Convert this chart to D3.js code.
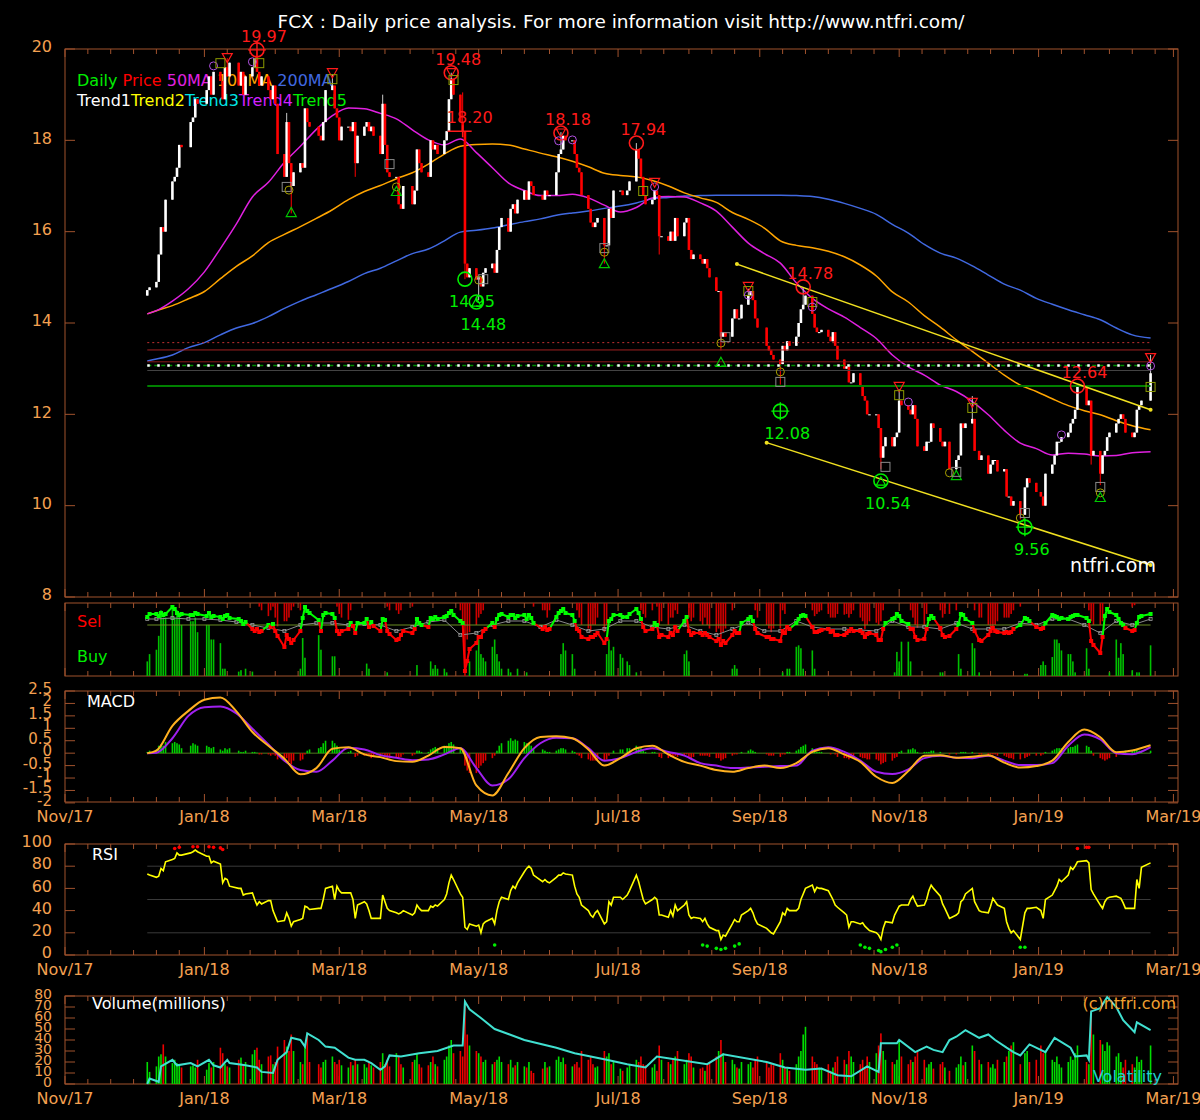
<!DOCTYPE html>
<html>
<head>
<meta charset="utf-8">
<title>FCX daily price analysis</title>
<script src="https://cdnjs.cloudflare.com/ajax/libs/d3/7.8.5/d3.min.js"></script>
<style>
	body { margin: 0; background: #000; }
	svg { display: block; }
	text { font-family: 'DejaVu Sans', sans-serif; }
</style>
</head>
<body>
<svg id="chart" width="1200" height="1120"></svg>
<script>
// one row per week, Mon..Fri, starting the week of 2017-12-04; null = no session
var weekStart = '2017-12-04';
var firstOpen = 14.6;

var closes = [
	[null,null,null,14.72,14.78],[14.9,15.5,16.1,16.0,16.7],[17.1,17.2,17.4,17.9,17.85],[null,18.4,18.5,18.9,18.8],
	[null,19.1,19.4,19.0,19.5],[19.3,18.9,19.6,19.4,19.7],[null,19.2,19.5,19.0,19.4],[19.6,19.8,19.5,19.2,19.4],
	[19.1,18.9,19.2,18.8,17.7],[17.2,18.4,17.5,17.0,17.3],[17.5,17.4,18.7,18.4,18.3],[null,18.1,18.0,18.4,19.1],
	[19.2,18.7,18.5,18.0,18.3],[18.3,18.2,18.4,17.5,18.1],[18.3,18.4,18.2,18.3,18.1],[17.7,18.8,17.9,17.3,17.2],
	[17.2,16.6,16.5,17.0,null],[16.6,16.9,17.8,17.5,17.3],[17.2,18.0,17.8,17.9,17.7],[18.0,18.2,18.9,19.35,19.0],
	[18.4,18.2,15.3,15.0,15.2],[14.95,15.0,14.8,15.1,15.2],[15.3,15.1,15.6,16.1,16.3],[16.0,16.5,16.6,16.4,16.7],
	[16.9,16.7,17.1,17.0,16.8],[null,16.7,16.9,16.8,16.8],[17.3,17.7,17.8,18.1,18.0],[18.0,17.7,17.4,17.3,16.8],
	[16.5,16.2,16.1,16.2,16.3],[15.7,15.7,16.5,16.3,16.9],[16.9,16.8,null,16.9,17.1],[17.8,17.6,17.2,16.8,16.6],
	[16.7,16.9,16.8,15.9,15.9],[15.8,16.0,15.8,16.3,15.9],[16.2,16.3,15.6,15.4,15.5],[15.4,15.3,15.4,15.2,15.0],
	[14.7,14.7,13.7,13.8,13.7],[14.1,14.3,14.1,14.1,14.4],[14.6,14.7,14.5,14.1,13.9],[null,13.5,13.4,13.3,13.2],
	[13.1,13.5,13.4,13.6,13.5],[13.7,14.0,14.3,14.4,14.6],[14.2,13.9,13.8,13.8,13.85],[13.7,13.6,13.8,13.5,13.2],
	[13.0,13.05,12.7,12.7,12.9],[12.6,12.4,12.3,12.0,12.0],[12.0,11.7,11.05,11.3,11.5],[11.3,11.5,11.6,12.3,12.2],
	[12.1,12.0,12.2,11.9,11.3],[11.2,11.4,11.4,11.8,11.7],[11.4,11.3,11.4,null,10.8],[11.0,11.1,11.8,11.7,11.8],
	[11.9,11.2,null,11.0,11.1],[10.7,10.9,11.0,11.0,10.75],[10.8,10.2,10.2,10.0,10.1],[9.8,null,10.4,10.6,10.5],
	[10.3,null,10.2,10.0,10.7],[10.9,11.1,11.4,11.4,11.5],[11.6,11.8,11.9,12.1,12.6],[null,12.2,12.3,11.1,11.2],
	[10.7,11.1,11.2,11.5,11.6],[11.8,11.9,12.0,11.9,11.6],[11.5,11.6,12.1,12.2,12.3],[null,12.9,null,null,null]
];

var highs = {'2018-01-11':19.8,'2018-01-24':19.95,'2018-02-06':18.6,'2018-02-26':19.45,'2018-03-20':19.0,
	'2018-04-19':19.48,'2018-04-24':19.05,'2018-06-06':18.18,'2018-07-09':17.94,'2018-08-27':14.75,
	'2018-09-20':14.78,'2018-11-01':12.55,'2018-12-03':12.4,'2019-01-18':12.64,'2019-01-24':12.3,'2019-02-19':13.3};
var lows = {'2018-02-08':16.4,'2018-03-08':17.2,'2018-04-25':14.96,'2018-05-01':14.5,'2018-06-25':15.3,
	'2018-07-19':15.5,'2018-08-15':13.4,'2018-09-10':12.65,'2018-10-24':10.8,'2018-11-26':10.75,
	'2018-12-24':9.7,'2019-01-24':10.9,'2019-01-28':10.45};

// millions of shares
var volumes = [
	[null,null,null,20,11],[16,25,27,36,25],[19,22,19,17,15],[null,16,17,15,22],[null,13,19,15,20],[33,28,18,16,15],
	[null,22,24,18,20],[27,31,33,22,18],[25,26,18,20,34],[40,34,30,45,30],[20,18,34,46,20],[null,18,15,20,22],
	[25,20,18,22,17],[15,20,17,22,18],[18,15,20,17,15],[20,28,18,22,16],[28,25,18,15,null],[20,22,28,18,15],
	[17,20,25,18,16],[22,25,35,40,28],[30,25,76,45,35],[30,28,25,20,22],[18,20,22,25,20],[18,22,15,17,20],
	[16,15,20,12,10],[null,14,20,15,16],[22,25,20,24,18],[16,18,20,15,30],[22,25,18,15,16],[30,25,28,18,20],
	[14,12,null,15,18],[22,20,25,18,17],[15,18,12,35,22],[20,18,22,25,30],[18,22,28,25,15],[14,15,12,18,20],
	[25,30,40,28,20],[22,18,15,14,20],[18,20,15,22,25],[null,20,15,18,17],[28,22,15,14,12],[18,25,30,45,52],
	[25,20,18,15,14],[18,12,15,20,25],[22,18,30,25,20],[18,22,15,25,20],[28,35,46,30,22],[20,18,22,40,25],
	[18,22,20,25,30],[22,15,18,20,14],[18,20,15,null,12],[15,18,25,17,20],[35,30,null,22,18],[20,15,18,14,22],
	[20,25,30,35,38],[18,null,28,30,20],[22,null,35,28,30],[22,20,25,18,15],[20,25,22,28,35],[null,20,18,67,45],
	[40,36,30,38,35],[25,28,20,15,22],[18,15,25,20,22],[null,35,null,null,null]
];

var rsi = [
	[null,null,null,73,72],[70,71,78,76,84],[86,87,92,90,90],[null,92,93,94.5,93],[null,89,89,83,84.5],[82,65,69,68,62],
	[null,60,60,54,55],[56,50,45,48,46],[49,49,40,35,30],[31,38,33,26,30],[32,33,44,43,41],[null,42,42,50,60],
	[62,50,62,58,56],[56,56,50,33,45],[48,46,40,33,33],[33,54,48,42,40],[38,37,38,40,null],[36,38,45,42,40],
	[40,44,43,45,44],[50,55,65,72,68],[55,52,25,23,28],[26,27,20,28,30],[33,28,40,48,52],[50,58,62,60,65],
	[75,78,80,78,72],[null,66,68,66,65],[70,72,72,74,73],[72,62,55,52,45],[40,36,34,38,40],[28,30,48,45,52],
	[52,50,null,54,58],[72,66,58,50,46],[50,52,50,36,36],[34,40,35,45,40],[45,48,36,33,34],[33,30,33,28,25],
	[22,22,14,18,17],[28,32,30,30,36],[40,42,38,32,28],[null,24,22,20,19],[30,38,36,42,40],[40,42,50,55,60],
	[63,57,61,60,60],[58,54,50,45,43],[38,36,25,30,30],[28,29,26,24,22],[20,18,14,24,30],[29,36,40,44,45],
	[45,50,53,48,44],[45,50,58,63,60],[53,46,42,null,33],[36,38,48,50,55],[60,48,null,40,39],[38,44,51,48,45],
	[42,30,24,20,22],[14,null,38,42,42],[43,null,40,33,50],[54,58,62,68,66],[72,79,77,80,84],[null,85,83,59,55],
	[45,42,48,51,52],[53,52,51,47,42],[42,42,68,60,79],[null,83,null,null,null]
];

var macdHist = [
	[null,null,null,0.05,0.1],[0.15,0.3,0.35,0.3,0.45],[0.4,0.45,0.4,0.35,0.2],[null,0.3,0.4,0.35,0.3],[null,0.3,0.25,0.2,0.25],
	[0.15,0.1,0.2,0.15,0.2],[null,0.1,0.05,0.05,0.1],[0.05,0.05,0.02,-0.05,-0.05],[-0.05,-0.1,-0.05,-0.1,-0.25],
	[-0.3,-0.2,-0.35,-0.45,-0.3],[-0.3,-0.25,-0.05,0.1,0.15],[null,0.2,0.25,0.4,0.5],[0.5,0.4,0.3,0.15,0.05],
	[0.05,0.1,0,-0.15,-0.1],[-0.1,-0.05,-0.1,-0.2,-0.15],[-0.1,-0.05,-0.1,-0.2,-0.2],[-0.15,-0.2,-0.15,-0.05,null],
	[-0.1,-0.05,0.1,0.1,0.05],[0.05,0.15,0.2,0.25,0.2],[0.3,0.3,0.4,0.45,0.35],[0.2,0.1,-0.5,-0.7,-0.8],
	[-0.8,-0.6,-0.5,-0.4,-0.3],[-0.2,-0.1,0.1,0.3,0.4],[0.5,0.6,0.5,0.55,0.5],[0.45,0.4,0.4,0.3,0.2],
	[null,0.15,0.1,0.05,0.05],[0.1,0.15,0.2,0.2,0.15],[0.1,0.05,-0.05,-0.1,-0.2],[-0.25,-0.3,-0.3,-0.3,-0.25],
	[-0.3,-0.25,-0.1,0,0.1],[0.15,0.15,null,0.2,0.2],[0.3,0.25,0.2,0.1,0.05],[0.05,0.05,0,-0.15,-0.2],
	[-0.2,-0.15,-0.15,-0.1,-0.15],[-0.1,-0.05,-0.15,-0.2,-0.15],[-0.1,-0.1,-0.1,-0.1,-0.15],[-0.2,-0.2,-0.3,-0.25,-0.2],
	[-0.1,-0.05,-0.05,0,0.05],[0.1,0.15,0.1,0.05,0],[null,-0.05,-0.1,-0.1,-0.1],[-0.15,-0.05,-0.05,0.05,0.05],
	[0.1,0.15,0.25,0.3,0.35],[0.2,0.1,0.05,0.05,0.05],[0,-0.05,0,-0.05,-0.15],[-0.2,-0.2,-0.25,-0.2,-0.15],
	[-0.15,-0.2,-0.2,-0.25,-0.25],[-0.25,-0.3,-0.45,-0.4,-0.35],[-0.3,-0.2,-0.15,0.05,0.1],[0.15,0.15,0.2,0.15,0.05],
	[0.05,0.05,0.05,0.1,0.1],[0.05,0,0,null,-0.05],[-0.05,0,0.05,0.05,0.05],[0.05,-0.02,null,-0.05,-0.05],
	[-0.1,-0.05,-0.05,-0.05,-0.1],[-0.1,-0.15,-0.2,-0.2,-0.25],[-0.25,null,-0.2,-0.15,-0.1],[-0.1,null,-0.1,-0.05,0.05],
	[0.1,0.15,0.2,0.2,0.2],[0.2,0.25,0.25,0.3,0.35],[null,0.3,0.25,0.1,-0.1],[-0.2,-0.25,-0.3,-0.25,-0.2],
	[-0.15,-0.05,0,0.05,0.1],[0.1,0.15,0.15,0.1,0.1],[null,0.1,null,null,null]
];

// sell/buy pressure: line above 0 = buy side, below = sell side
var sentiment = [
	[null,null,null,0.4,0.55],[0.55,0.45,0.6,0.5,0.55],[0.9,0.8,0.6,0.5,0.55],[null,0.5,0.5,0.6,0.55],[null,0.45,0.6,0.4,0.45],
	[0.4,0.3,0.45,0.5,0.35],[null,0.3,0.2,0.05,0.15],[-0.2,-0.3,-0.2,-0.35,-0.3],[0,-0.1,0.05,-0.3,-0.55],
	[-1.1,-0.5,-0.7,-0.9,-0.75],[-0.3,0.35,0.9,0.7,0.6],[null,0.25,-0.3,0.5,0.6],[0.55,0.35,-0.3,-0.45,-0.3],
	[-0.2,0.1,-0.05,-0.4,0.1],[0.1,0.3,-0.1,0.15,-0.05],[-0.3,0.3,0.25,-0.3,-0.45],[-0.75,-0.7,-0.5,-0.3,null],
	[-0.4,-0.2,0.3,0.1,0],[-0.1,0.35,0.3,0.4,0.3],[0.4,0.45,0.6,0.7,0.5],[0.2,0.1,-2.3,-1.8,-1.2],
	[-0.9,-0.6,-0.6,-0.3,-0.2],[0.1,-0.1,0.3,0.5,0.55],[0.4,0.5,0.5,0.35,0.45],[0.5,0.3,0.5,0.35,0.1],
	[null,-0.2,-0.1,-0.25,-0.2],[0.4,0.6,0.7,0.8,0.6],[0.5,0.2,-0.2,-0.3,-0.6],[-0.7,-0.6,-0.6,-0.5,-0.4],
	[-0.9,-0.7,0.2,0.3,0.5],[0.5,0.4,null,0.4,0.55],[0.8,0.6,0.3,-0.1,-0.3],[-0.2,0.1,0,-0.6,-0.5],
	[-0.6,-0.4,-0.5,-0.1,-0.3],[0.2,0.4,-0.3,-0.5,-0.4],[-0.4,-0.5,-0.4,-0.5,-0.6],[-0.8,-0.7,-1.0,-0.8,-0.9],
	[-0.5,-0.3,-0.4,-0.4,0.1],[0.3,0.4,0.2,-0.2,-0.4],[null,-0.6,-0.6,-0.7,-0.7],[-0.8,-0.3,-0.4,-0.1,-0.2],
	[0.1,0.3,0.45,0.5,0.45],[-0.1,-0.35,-0.35,-0.3,-0.25],[-0.2,-0.35,-0.3,-0.5,-0.5],[-0.5,-0.4,-0.3,-0.2,-0.3],
	[-0.3,-0.4,-0.6,-0.45,-0.4],[-0.5,-0.75,-0.75,-0.2,0.1],[0.3,0.35,0.55,0.45,0.2],[0.05,-0.2,-0.2,-0.6,-0.75],
	[-0.7,-0.2,0.3,0.45,0.35],[-0.15,-0.5,-0.6,null,-0.55],[-0.2,0.05,0.55,0.5,0.3],[0.1,-0.3,null,-0.75,-0.8],
	[-0.5,-0.3,-0.15,-0.3,-0.35],[-0.4,-0.35,-0.4,-0.35,-0.2],[0,null,0.35,0.3,0.2],[-0.1,null,-0.2,-0.15,0.1],
	[0.5,0.45,0.4,0.3,0.35],[0.3,0.4,0.45,0.5,0.5],[null,0.35,0.2,-0.8,-1.0],[-1.4,-0.6,0.45,0.8,0.65],
	[0.5,0.3,0.1,0,-0.15],[-0.3,-0.25,0.1,0.4,0.45],[null,0.55,null,null,null]
];

// bar heights as a share of the panel
var buyBars = [
	[null,null,null,0.2,0.3],[0.36,0.55,0.9,0.8,0.8],[0.95,0.8,0.9,0.85,0.7],[null,0.75,0.75,0.8,0.6],[null,0.7,0.7,0.5,0.5],
	[0.45,0.1,0.1,0,0],[null,0.06,0.08,0,0.1],[0.06,0,0,0,0],[0,0,0,0,0],[0,0,0,0,0],[0.1,0.52,0.25,0,0],
	[null,0.56,0.36,0,0],[0.27,0.27,0,0,0],[0,0,0,0,0],[0,0.17,0.1,0,0],[0,0,0,0.05,0],[0,0,0,0,null],
	[0,0,0.15,0,0],[0,0.2,0.1,0.15,0.1],[0.1,0.05,0,0,0],[0,0,0,0,0.2],[0.35,0.5,0.3,0.25,0.2],[0.4,0.5,0.3,0.2,0.1],
	[0.1,0.05,0,0,0.1],[0,0.05,0,0,0],[null,0,0,0,0],[0,0,0.3,0.45,0.35],[0.3,0.1,0,0,0],[0,0,0,0,0],
	[0,0.3,0.5,0.35,0.4],[0.3,0.25,null,0.2,0.15],[0.05,0,0,0,0],[0,0,0,0,0],[0,0,0,0,0],[0.3,0.35,0.2,0,0],
	[0,0,0,0,0],[0,0,0,0,0],[0.1,0.15,0.1,0,0],[0,0,0,0,0],[null,0,0,0,0],[0,0.05,0,0.1,0.1],[0.4,0.42,0.38,0.1,0],
	[0.35,0.1,0,0,0],[0,0,0,0,0],[0,0,0,0,0],[0,0,0,0,0],[0,0,0,0,0],[0,0.05,0.33,0.2,0.47],[0.47,0.2,0,0,0],
	[0,0,0,0,0],[0.05,0.05,0,null,0],[0,0.3,0.1,0,0],[0.45,0.38,null,0.05,0],[0,0,0,0,0],[0,0,0,0,0],
	[0,null,0.03,0.03,0],[0,null,0.15,0.2,0.15],[0.26,0.5,0.5,0.45,0.35],[0.3,0.3,0.2,0.05,0],[null,0.38,0.1,0,0],
	[0,0,0,0,0.05],[0.5,0.25,0.45,0.3,0],[0.08,0,0.05,0.05,0],[null,0.42,null,null,null]
];
var sellBars = [
	[null,null,null,0,0],[0,0,0,0,0],[0,0,0,0,0],[null,0,0,0,0],[null,0,0,0,0],[0,0,0,0,0],[null,0,0,0,0],
	[0,0,0,0.05,0.1],[0.18,0.1,0.05,0.2,0.32],[0.25,0.25,0.2,0.1,0.05],[0.1,0,0,0,0],[null,0,0,0,0],
	[0,0,0.05,0.15,0.2],[0.23,0.1,0,0,0],[0,0,0,0,0],[0,0,0,0.05,0.1],[0.1,0.15,0.1,0,null],[0.05,0,0,0,0],
	[0,0,0,0,0],[0,0,0,0,0],[0.1,0.3,1.0,0.5,0.4],[0.3,0.2,0.15,0.1,0],[0,0,0,0,0],[0,0,0,0,0],[0,0,0,0,0.05],
	[null,0.1,0.1,0.2,0.1],[0,0,0,0,0],[0,0,0.1,0.2,0.3],[0.35,0.4,0.3,0.3,0.2],[0.4,0.3,0,0,0],[0,0,null,0,0],
	[0,0,0.1,0.15,0.2],[0.1,0,0.05,0.3,0.25],[0.3,0.2,0.2,0.1,0.15],[0,0,0.2,0.25,0.2],[0.25,0.3,0.2,0.3,0.35],
	[0.4,0.35,0.5,0.4,0.35],[0.1,0,0,0,0],[0,0,0,0.1,0.2],[null,0.3,0.35,0.4,0.35],[0.35,0.1,0.15,0,0],[0,0,0,0,0],
	[0.1,0.18,0.15,0.12,0.1],[0.15,0.2,0.2,0.2,0.15],[0.16,0.15,0.2,0.15,0.1],[0.2,0.25,0.36,0.3,0.25],
	[0.27,0.3,0.25,0.1,0],[0,0,0,0,0],[0,0.1,0.2,0.3,0.34],[0.3,0.15,0,0,0],[0.1,0.2,0.15,null,0.15],[0.1,0,0,0,0],
	[0,0.1,null,0.2,0.2],[0.3,0.41,0.35,0.3,0.25],[0.2,0.2,0.2,0.15,0.1],[0.05,null,0,0,0],[0,null,0,0,0],
	[0,0,0,0,0],[0,0,0,0,0],[null,0,0.1,0.25,0.3],[0.3,0.25,0,0,0],[0,0,0,0,0],[0.05,0.03,0,0,0],[null,0,null,null,null]
];

// weekly samples (first session, then each Monday, then last session)
var ma50 = [14.20,14.27,14.48,14.75,15.12,15.63,16.17,16.76,17.08,17.52,17.87,18.24,18.54,18.71,18.69,18.59,
	18.47,18.23,18.01,17.90,18.03,17.73,17.40,17.07,16.90,16.79,16.79,16.82,16.74,16.58,16.43,16.53,16.74,16.77,
	16.76,16.63,16.45,16.10,15.75,15.52,15.31,14.88,14.54,14.31,14.13,13.90,13.66,13.30,13.04,12.86,12.64,12.50,
	12.28,11.99,11.65,11.37,11.25,11.11,11.15,11.13,11.09,11.10,11.16,11.18];
var ma100 = [14.20,14.27,14.38,14.53,14.69,14.97,15.24,15.47,15.76,15.94,16.11,16.29,16.48,16.70,16.88,17.01,
	17.16,17.29,17.48,17.70,17.87,17.91,17.92,17.90,17.81,17.72,17.64,17.54,17.42,17.28,17.23,17.20,17.12,17.00,
	16.85,16.74,16.64,16.42,16.27,16.08,15.80,15.70,15.65,15.57,15.45,15.27,15.03,14.68,14.46,14.16,13.91,13.63,
	13.38,13.12,12.86,12.64,12.50,12.34,12.19,12.08,11.99,11.86,11.75,11.66];
var ma200 = [13.17,13.21,13.30,13.46,13.57,13.74,13.89,13.99,14.14,14.32,14.48,14.62,14.76,14.91,15.08,15.20,
	15.36,15.52,15.62,15.80,15.99,16.03,16.08,16.15,16.22,16.28,16.36,16.41,16.45,16.51,16.56,16.63,16.72,16.75,
	16.78,16.79,16.80,16.80,16.80,16.80,16.80,16.79,16.77,16.71,16.62,16.51,16.38,16.16,15.97,15.72,15.53,15.42,
	15.25,15.05,14.85,14.72,14.54,14.41,14.29,14.18,14.07,13.89,13.74,13.67];
var macdLine = [0,0.1,1.1,1.7,2.15,2.24,1.68,0.85,0.3,-0.22,-0.85,-0.6,0.18,0.24,-0.05,-0.16,-0.32,-0.35,-0.1,
	0.25,0.2,-1.3,-1.7,-0.8,0.2,0.65,0.68,0.6,0.15,-0.5,-0.2,0.2,0.3,-0.05,-0.35,-0.5,-0.68,-0.75,-0.6,-0.5,-0.6,
	-0.4,0.05,0.2,-0.05,-0.35,-0.95,-1.2,-0.72,-0.1,-0.08,-0.18,-0.14,-0.08,-0.38,-0.58,-0.52,-0.3,0.45,0.95,0.64,
	0.04,0.11,0.32];
var signalLine = [0,0.02,0.6,1.5,1.85,1.88,1.6,0.98,0.35,-0.3,-0.68,-0.75,-0.3,0.22,0.15,-0.08,-0.18,-0.28,-0.25,
	-0.05,0.2,-0.6,-1.3,-1.05,-0.2,0.4,0.62,0.6,0.2,-0.3,-0.2,0.05,0.2,0.05,-0.1,-0.4,-0.5,-0.6,-0.58,-0.55,-0.52,
	-0.5,0.1,0.24,0.05,-0.3,-0.75,-0.84,-0.65,-0.2,-0.1,-0.18,-0.2,-0.1,-0.3,-0.48,-0.48,-0.4,0.3,0.75,0.55,0,
	-0.04,0.24];
var neutralLine = [0.3,0.3,0.35,0.3,0.3,0.25,0.15,0,-0.15,-0.3,0,0.1,0.1,0,0.05,0,-0.3,-0.1,0.15,0.25,-0.5,-0.4,
	0,0.2,0.2,-0.1,0.25,0,-0.3,-0.2,0.2,0.2,-0.1,-0.2,0,-0.3,-0.5,-0.2,0.1,-0.3,-0.3,0.2,-0.1,-0.2,-0.2,-0.25,-0.3,
	0.2,-0.1,-0.1,-0.2,0.1,-0.2,-0.2,-0.2,0.1,0,0.3,0.3,0,-0.4,0.2,0,0.3];

var volatility = [
	['2017-12-07',0],['2017-12-08',5],['2017-12-12',2],['2017-12-13',16],['2017-12-18',22],['2017-12-20',17],
	['2017-12-26',19],['2017-12-29',16],['2018-01-03',22],['2018-01-05',17],['2018-01-08',15],['2018-01-11',22],
	['2018-01-12',19],['2018-01-19',17],['2018-01-24',15],['2018-01-26',11],['2018-01-31',10],['2018-02-02',22],
	['2018-02-06',29],['2018-02-08',42],['2018-02-12',40],['2018-02-14',34],['2018-02-15',46],['2018-02-20',40],
	['2018-02-23',34],['2018-02-27',33],['2018-03-05',24],['2018-03-08',22],['2018-03-12',22],['2018-03-15',19],
	['2018-03-19',13],['2018-03-21',16],['2018-03-23',26],['2018-03-28',25],['2018-04-05',28],['2018-04-13',30],
	['2018-04-20',35],['2018-04-24',35],['2018-04-25',75],['2018-04-27',68],['2018-05-02',60],['2018-05-08',50],
	['2018-05-21',40],['2018-06-04',33],['2018-06-12',28],['2018-06-26',22],['2018-07-05',18],['2018-07-13',15],
	['2018-07-18',25],['2018-08-09',18],['2018-08-16',27],['2018-09-04',20],['2018-09-12',15],['2018-09-21',13],
	['2018-09-28',14],['2018-10-05',8],['2018-10-11',7],['2018-10-18',16],['2018-10-23',11],['2018-10-24',37],
	['2018-10-31',37],['2018-11-01',40],['2018-11-08',29],['2018-11-13',34],['2018-11-16',31],['2018-11-20',29],
	['2018-11-23',40],['2018-11-26',43],['2018-11-30',49],['2018-12-06',42],['2018-12-10',45],['2018-12-13',40],
	['2018-12-18',33],['2018-12-21',29],['2018-12-24',26],['2018-12-28',36],['2019-01-04',29],['2019-01-08',42],
	['2019-01-15',33],['2019-01-17',25],['2019-01-22',26],['2019-01-23',22],['2019-01-24',66],['2019-01-28',69],
	['2019-01-31',79],['2019-02-04',70],['2019-02-07',58],['2019-02-12',47],['2019-02-13',56],['2019-02-19',49]
];

var rsiHighDots = [['2017-12-19',96],['2017-12-21',97],['2017-12-27',97.5],['2017-12-29',97.5],['2018-01-03',97.5],
	['2018-01-05',97],['2018-01-08',96.5],['2018-01-09',95],['2019-01-18',96],['2019-01-22',97],['2019-01-23',97]];
var rsiLowDots = [['2018-05-08',9],['2018-08-07',9],['2018-08-09',8],['2018-08-13',6],['2018-08-15',5],
	['2018-08-17',6],['2018-08-21',8],['2018-08-23',10],['2018-10-15',9],['2018-10-17',7],['2018-10-19',6],
	['2018-10-23',4],['2018-10-24',3],['2018-10-26',5],['2018-10-29',7],['2018-10-31',9],['2018-12-24',7],['2018-12-26',7]];

// support / resistance levels and the two channel lines
var levels = [13.57, 13.41, 13.15, 13.07, 12.96, 12.62];
var trendLines = [
	[['2018-08-22',15.29],['2019-02-19',12.10]],
	[['2018-09-04',11.38],['2019-02-19',8.70]]
];

// signal markers: date, price, kind, label
var markers = [
	['2018-01-24',19.98,'hiCross','19.97'],['2018-01-11',19.80,'dn'],['2018-02-26',19.47,'dn'],
	['2018-01-05',19.63,'pc'],['2018-01-22',19.72,'pc'],['2018-01-08',19.69,'os'],['2018-01-25',19.69,'os'],
	['2018-02-26',19.34,'os'],['2018-02-06',16.98,'gs'],['2018-03-23',17.48,'gs'],['2018-02-07',16.91,'oc'],
	['2018-03-26',16.98,'oc'],['2018-02-08',16.43,'up'],['2018-03-26',16.89,'up'],
	['2018-04-19',19.48,'hiTri','19.48'],['2018-04-20',19.32,'os'],['2018-04-24',18.20,'plus','18.20'],
	['2018-04-25',14.96,'loCircle','14.95'],['2018-05-01',14.94,'oc'],['2018-05-03',14.96,'gs'],
	['2018-04-30',14.46,'loTri','14.48'],
	['2018-06-06',18.16,'hiTri','18.18'],['2018-06-05',17.99,'pc'],['2018-06-11',18.01,'pc'],
	['2018-07-09',17.94,'hiCircle','17.94'],['2018-07-12',16.89,'os'],['2018-07-17',16.98,'pc'],['2018-07-17',17.07,'dn'],
	['2018-06-25',15.64,'gs'],['2018-06-25',15.55,'oc'],['2018-06-25',15.31,'up'],
	['2018-08-27',14.79,'dn'],['2018-08-27',14.70,'os'],['2018-08-27',14.61,'pc'],
	['2018-08-15',13.56,'oc'],['2018-08-15',13.15,'up'],['2018-08-17',13.69,'gs'],
	['2018-09-20',14.79,'hiCircle','14.78'],['2018-09-24',14.46,'os'],['2018-09-24',14.35,'pc'],
	['2018-09-10',12.93,'oc'],['2018-09-10',12.71,'gs'],['2018-09-10',12.07,'loCross','12.08'],
	['2018-10-26',10.85,'gs'],['2018-10-24',10.54,'loTri','10.54'],
	['2018-11-01',12.60,'dn'],['2018-11-01',12.42,'os'],['2018-11-05',12.27,'pc'],
	['2018-11-23',10.72,'oc'],['2018-11-26',10.67,'up'],['2018-11-26',10.74,'gs'],
	['2018-12-03',12.25,'dn'],['2018-12-03',12.14,'os'],
	['2018-12-24',9.73,'oc'],['2018-12-26',9.84,'gs'],['2018-12-26',9.53,'loCross','9.56'],
	['2019-01-11',11.55,'pc'],['2019-01-18',12.62,'hiCircle','12.64'],
	['2019-01-28',10.41,'gs'],['2019-01-28',10.28,'oc'],['2019-01-28',10.19,'up'],
	['2019-02-19',13.23,'dn'],['2019-02-19',13.06,'pc'],['2019-02-19',12.60,'os']
];

var priceTicks = [8, 10, 12, 14, 16, 18, 20];
var macdTicks = [-2, -1.5, -1, -0.5, 0, 0.5, 1, 1.5, 2, 2.5];
var rsiTicks = [0, 20, 40, 60, 80, 100];
var rsiGrid = [20, 50, 80];
var volTicks = [0, 10, 20, 30, 40, 50, 60, 70, 80];

var legend1 = [['Daily', '#00ee00'], ['Price', '#ff0000'], ['50MA', '#e020e0'], ['100MA', '#ffa500'], ['200MA', '#4169e1']];
var legend2 = [['Trend1', '#ffffff'], ['Trend2', '#ffff00'], ['Trend3', '#00e5e5'], ['Trend4', '#d020ff'], ['Trend5', '#00ee00']];

// ---------------------------------------------------------------

var parse = d3.timeParse('%Y-%m-%d'),
	key = d3.timeFormat('%Y-%m-%d'),
	start = parse(weekStart);

var days = [];
closes.forEach(function(row, k) {
	row.forEach(function(c, j) {
		if (c === null) return;
		days.push({
			date: d3.timeDay.offset(start, k * 7 + j),
			close: c,
			vol: volumes[k][j],
			rsi: rsi[k][j],
			hist: macdHist[k][j],
			sent: sentiment[k][j],
			buy: buyBars[k][j],
			sell: sellBars[k][j]
		});
	});
});
days.forEach(function(d, i) {
	d.open = i ? days[i - 1].close : firstOpen;
	d.up = d.close >= d.open;
	d.high = highs[key(d.date)] || Math.max(d.open, d.close);
	d.low = lows[key(d.date)] || Math.min(d.open, d.close);
});
var firstDay = days[0].date,
	lastDay = days[days.length - 1].date;

var weekly = function(values) {
	return values.map(function(v, i) {
		var d = i === 0 ? firstDay : (i === values.length - 1 ? lastDay : d3.timeDay.offset(start, i * 7));
		return [d, v];
	});
};
var dated = function(list) {
	return list.map(function(p) { return [parse(p[0]), p[1]].concat(p.slice(2)); });
};

var left = 65, right = 1178;
var frameColor = '#a0522d', tickText = '#f4a050';

var x = d3.scaleTime()
	.domain([new Date(2017, 10, 1), new Date(2019, 2, 3)])
	.range([left, right]);

var yPrice = d3.scaleLinear().domain([8, 20]).range([597, 49]);
var ySel = d3.scaleLinear().domain([-1, 1]).range([645, 605]);
var yBuy = d3.scaleLinear().domain([0, 1]).range([676, 603]);
var ySell = d3.scaleLinear().domain([0, 1]).range([603, 676]);
var yMacd = d3.scaleLinear().domain([-2, 2.5]).range([802.9, 691]);
var yRsi = d3.scaleLinear().domain([0, 100]).range([955, 844]);
var yVol = d3.scaleLinear().domain([0, 80]).range([1084, 996]);

var svg = d3.select('#chart');
svg.append('rect').attr('width', 1200).attr('height', 1120).attr('fill', '#000');

svg.append('text')
	.text('FCX : Daily price analysis. For more information visit http://www.ntfri.com/')
	.attr('x', 621).attr('y', 28)
	.attr('text-anchor', 'middle')
	.attr('fill', '#fff')
	.style('font-size', '18.5px');

// x tick dates: 1st, 11th and 21st of each month
var tickDates = [];
d3.timeMonth.range(new Date(2017, 10, 1), new Date(2019, 2, 2)).forEach(function(m) {
	[1, 11, 21].forEach(function(dd) {
		var t = new Date(m.getFullYear(), m.getMonth(), dd);
		if (t <= x.domain()[1]) tickDates.push(t);
	});
});
var isMajor = function(t) { return t.getDate() === 1 && t.getMonth() % 2 === 0; };
var monthFormat = d3.timeFormat('%b/%y');

var frame = function(top, bottom, y, ticks, labelSize, xLabels) {
	var g = svg.append('g');
	g.append('rect')
		.attr('x', left).attr('y', top)
		.attr('width', right - left).attr('height', bottom - top)
		.attr('fill', 'none')
		.attr('stroke', frameColor);
	tickDates.forEach(function(t) {
		var len = isMajor(t) ? 8 : 5;
		g.append('line').attr('x1', x(t)).attr('x2', x(t)).attr('y1', top).attr('y2', top + len)
			.attr('stroke', frameColor);
		g.append('line').attr('x1', x(t)).attr('x2', x(t)).attr('y1', bottom).attr('y2', bottom - len)
			.attr('stroke', frameColor);
	});
	if (xLabels) {
		g.selectAll('text.xl')
			.data(tickDates.filter(isMajor))
			.enter()
			.append('text')
			.text(function(d) { return monthFormat(d); })
			.attr('x', function(d) { return x(d); })
			.attr('y', bottom + 20)
			.attr('text-anchor', 'middle')
			.attr('fill', tickText)
			.style('font-size', '16px');
	}
	if (!y) return g;
	ticks.forEach(function(v) {
		g.append('line').attr('x1', left).attr('x2', left + 10).attr('y1', y(v)).attr('y2', y(v))
			.attr('stroke', frameColor);
		g.append('line').attr('x1', right - 10).attr('x2', right).attr('y1', y(v)).attr('y2', y(v))
			.attr('stroke', frameColor);
	});
	g.selectAll('text.yl')
		.data(ticks)
		.enter()
		.append('text')
		.text(function(d) { return String(d); })
		.attr('x', 52)
		.attr('y', function(d) { return y(d) + labelSize * 0.2; })
		.attr('text-anchor', 'end')
		.attr('fill', tickText)
		.style('font-size', labelSize + 'px');
	return g;
};

frame(49, 597, yPrice, priceTicks, 16, false);
frame(603, 676, null, null, 0, false);
frame(691, 802, yMacd, macdTicks, 15, true);
frame(844, 955, yRsi, rsiTicks, 16, true);
frame(996, 1084, yVol, volTicks, 14, true);

// ---------------- price panel ----------------
var price = svg.append('g');

var legendRow = function(items, y, gap) {
	var t = price.append('text').attr('x', 77).attr('y', y).style('font-size', '16px');
	items.forEach(function(it, i) {
		t.append('tspan').text((i && gap ? ' ' : '') + it[0]).attr('fill', it[1]);
	});
};
legendRow(legend1, 86, true);
legendRow(legend2, 106, false);

var maLine = d3.line()
	.x(function(d) { return x(d[0]); })
	.y(function(d) { return yPrice(d[1]); })
	.curve(d3.curveMonotoneX);

[[ma200, '#4169e1'], [ma100, '#ffa500'], [ma50, '#e020e0']].forEach(function(s) {
	price.append('path')
		.datum(weekly(s[0]))
		.attr('d', maLine)
		.attr('fill', 'none')
		.attr('stroke', s[1])
		.attr('stroke-width', 1.5);
});

price.selectAll('line.wick')
	.data(days)
	.enter()
	.append('line')
	.attr('x1', function(d) { return x(d.date); })
	.attr('x2', function(d) { return x(d.date); })
	.attr('y1', function(d) { return yPrice(d.high); })
	.attr('y2', function(d) { return yPrice(d.low); })
	.attr('stroke', function(d) { return d.up ? '#c8c8c8' : '#ff0000'; })
	.attr('stroke-width', 1);

price.selectAll('rect.body')
	.data(days)
	.enter()
	.append('rect')
	.attr('x', function(d) { return x(d.date) - 1.3; })
	.attr('y', function(d) { return yPrice(Math.max(d.open, d.close)); })
	.attr('width', 2.6)
	.attr('height', function(d) { return Math.max(1, Math.abs(yPrice(d.open) - yPrice(d.close))); })
	.attr('fill', function(d) { return d.up ? '#ffffff' : '#ff0000'; });

// horizontal levels
var levelStyle = [
	{stroke: '#c03030', dash: '2,3', width: 1},
	{stroke: '#a02020', dash: null, width: 1},
	{stroke: '#8b1a1a', dash: null, width: 1},
	{stroke: '#009000', dash: '4,3', width: 1.5},
	{stroke: '#444444', dash: null, width: 1},
	{stroke: '#008000', dash: null, width: 2}
];
levels.forEach(function(v, i) {
	var s = levelStyle[i];
	price.append('line')
		.attr('x1', x(firstDay)).attr('x2', x(lastDay))
		.attr('y1', yPrice(v)).attr('y2', yPrice(v))
		.attr('stroke', s.stroke)
		.attr('stroke-width', s.width)
		.attr('stroke-dasharray', s.dash);
	if (i === 3) {
		price.append('line')
			.attr('x1', x(firstDay)).attr('x2', x(lastDay))
			.attr('y1', yPrice(v)).attr('y2', yPrice(v))
			.attr('stroke', '#ffffff')
			.attr('stroke-width', 2.5)
			.attr('stroke-dasharray', '2.5,7.5');
	}
});

trendLines.forEach(function(tl) {
	var p = dated(tl);
	price.append('line')
		.attr('x1', x(p[0][0])).attr('y1', yPrice(p[0][1]))
		.attr('x2', x(p[1][0])).attr('y2', yPrice(p[1][1]))
		.attr('stroke', '#f0e020')
		.attr('stroke-width', 1.5);
	p.forEach(function(e) {
		price.append('circle').attr('cx', x(e[0])).attr('cy', yPrice(e[1])).attr('r', 2).attr('fill', '#f0e020');
	});
});

// markers
var drawMarker = function(m) {
	var cx = x(m[0]), cy = yPrice(m[1]), kind = m[2];
	var g = price.append('g').attr('transform', 'translate(' + cx + ',' + cy + ')').attr('fill', 'none');
	var red = '#ff1a1a', green = '#00ee00';
	var tri = function(color, down, s) {
		var h = s * 0.9;
		var pts = down ? [[-s / 2, -h / 2], [s / 2, -h / 2], [0, h / 2]] : [[-s / 2, h / 2], [s / 2, h / 2], [0, -h / 2]];
		g.append('path').attr('d', 'M' + pts.join('L') + 'Z').attr('stroke', color).attr('stroke-width', 1.2);
	};
	var ring = function(color) {
		g.append('circle').attr('r', 7).attr('stroke', color).attr('stroke-width', 1.6);
	};
	var cross = function(color) {
		g.append('path').attr('d', 'M-9,0H9M0,-9V9').attr('stroke', color).attr('stroke-width', 1.4);
	};
	if (kind === 'hiCross') { ring(red); cross(red); }
	if (kind === 'hiTri') { ring(red); tri(red, true, 9); }
	if (kind === 'hiCircle') { ring(red); }
	if (kind === 'loCross') { ring(green); cross(green); }
	if (kind === 'loTri') { ring(green); tri(green, false, 9); }
	if (kind === 'loCircle') { ring(green); }
	if (kind === 'plus') {
		g.append('path').attr('d', 'M-15,0H9M0,-6V6').attr('stroke', red).attr('stroke-width', 1.5);
	}
	if (kind === 'dn') tri(red, true, 10);
	if (kind === 'up') tri('#00c800', false, 10);
	if (kind === 'os') g.append('rect').attr('x', -4.5).attr('y', -4.5).attr('width', 9).attr('height', 9).attr('stroke', '#8c9a00');
	if (kind === 'gs') g.append('rect').attr('x', -4.5).attr('y', -4.5).attr('width', 9).attr('height', 9).attr('stroke', '#8a8a8a');
	if (kind === 'oc') g.append('circle').attr('r', 4).attr('stroke', '#a8a000');
	if (kind === 'pc') g.append('circle').attr('r', 4).attr('stroke', '#b050e0');
	if (m[3]) {
		var high = kind.indexOf('hi') === 0 || kind === 'plus';
		price.append('text')
			.text(m[3])
			.attr('x', cx + 7)
			.attr('y', high ? cy - 8 : cy + 28)
			.attr('text-anchor', 'middle')
			.attr('fill', high ? red : green)
			.style('font-size', '16px');
	}
};
dated(markers).forEach(drawMarker);

price.append('text')
	.text('ntfri.com')
	.attr('x', 1156).attr('y', 572)
	.attr('text-anchor', 'end')
	.attr('fill', '#fff')
	.style('font-size', '19px');

// ---------------- sell / buy panel ----------------
var sel = svg.append('g');
sel.selectAll('rect.buy')
	.data(days.filter(function(d) { return d.buy > 0; }))
	.enter()
	.append('rect')
	.attr('x', function(d) { return x(d.date) - 0.8; })
	.attr('y', function(d) { return yBuy(d.buy); })
	.attr('width', 1.6)
	.attr('height', function(d) { return yBuy(0) - yBuy(d.buy); })
	.attr('fill', '#00c000');
sel.selectAll('rect.sell')
	.data(days.filter(function(d) { return d.sell > 0; }))
	.enter()
	.append('rect')
	.attr('x', function(d) { return x(d.date) - 0.8; })
	.attr('y', ySell(0))
	.attr('width', 1.6)
	.attr('height', function(d) { return ySell(d.sell) - ySell(0); })
	.attr('fill', '#d00000');

sel.append('line')
	.attr('x1', x(firstDay)).attr('x2', x(lastDay))
	.attr('y1', ySel(0)).attr('y2', ySel(0))
	.attr('stroke', '#6b8e23');

var neutral = weekly(neutralLine);
sel.append('path')
	.datum(neutral)
	.attr('d', d3.line().x(function(d) { return x(d[0]); }).y(function(d) { return ySel(d[1]); }))
	.attr('fill', 'none')
	.attr('stroke', '#8a8a8a');
sel.selectAll('rect.nq')
	.data(neutral)
	.enter()
	.append('rect')
	.attr('x', function(d) { return x(d[0]) - 1.5; })
	.attr('y', function(d) { return ySel(d[1]) - 1.5; })
	.attr('width', 3).attr('height', 3)
	.attr('fill', 'none')
	.attr('stroke', '#9a9a9a')
	.attr('stroke-width', 0.8);

for (var i = 1; i < days.length; i++) {
	sel.append('line')
		.attr('x1', x(days[i - 1].date)).attr('y1', ySel(days[i - 1].sent))
		.attr('x2', x(days[i].date)).attr('y2', ySel(days[i].sent))
		.attr('stroke', days[i].sent >= 0 ? '#00ff00' : '#ff0000')
		.attr('stroke-width', 2);
}
sel.selectAll('rect.dot')
	.data(days)
	.enter()
	.append('rect')
	.attr('x', function(d) { return x(d.date) - 2; })
	.attr('y', function(d) { return ySel(d.sent) - 2; })
	.attr('width', 4).attr('height', 4)
	.attr('fill', function(d) { return d.sent >= 0 ? '#00ff00' : '#ff0000'; });

sel.append('text').text('Sel').attr('x', 77).attr('y', 627).attr('fill', '#ff0000').style('font-size', '16px');
sel.append('text').text('Buy').attr('x', 77).attr('y', 662).attr('fill', '#00ee00').style('font-size', '16px');

// ---------------- MACD panel ----------------
var macd = svg.append('g');
macd.append('line')
	.attr('x1', x(firstDay)).attr('x2', x(lastDay))
	.attr('y1', yMacd(0)).attr('y2', yMacd(0))
	.attr('stroke', '#4e7a1e');
macd.selectAll('rect.h')
	.data(days)
	.enter()
	.append('rect')
	.attr('x', function(d) { return x(d.date) - 0.8; })
	.attr('y', function(d) { return yMacd(Math.max(0, d.hist)); })
	.attr('width', 1.6)
	.attr('height', function(d) { return Math.abs(yMacd(d.hist) - yMacd(0)); })
	.attr('fill', function(d) { return d.hist >= 0 ? '#00d000' : '#e00000'; });

var macdPath = d3.line()
	.x(function(d) { return x(d[0]); })
	.y(function(d) { return yMacd(d[1]); })
	.curve(d3.curveMonotoneX);
macd.append('path').datum(weekly(signalLine)).attr('d', macdPath)
	.attr('fill', 'none').attr('stroke', '#a020f0').attr('stroke-width', 2);
macd.append('path').datum(weekly(macdLine)).attr('d', macdPath)
	.attr('fill', 'none').attr('stroke', '#ffb020').attr('stroke-width', 2);
macd.append('text').text('MACD').attr('x', 87).attr('y', 707).attr('fill', '#fff').style('font-size', '16px');

// ---------------- RSI panel ----------------
var rsiG = svg.append('g');
rsiGrid.forEach(function(v) {
	rsiG.append('line')
		.attr('x1', x(firstDay)).attr('x2', x(lastDay))
		.attr('y1', yRsi(v)).attr('y2', yRsi(v))
		.attr('stroke', '#3a3a3a');
});
rsiG.append('path')
	.datum(days)
	.attr('d', d3.line().x(function(d) { return x(d.date); }).y(function(d) { return yRsi(d.rsi); }))
	.attr('fill', 'none')
	.attr('stroke', '#ffff00')
	.attr('stroke-width', 1.6);
rsiG.selectAll('circle.ob')
	.data(dated(rsiHighDots))
	.enter()
	.append('circle')
	.attr('cx', function(d) { return x(d[0]); })
	.attr('cy', function(d) { return yRsi(d[1]); })
	.attr('r', 1.8)
	.attr('fill', '#ff0000');
rsiG.selectAll('circle.os')
	.data(dated(rsiLowDots))
	.enter()
	.append('circle')
	.attr('cx', function(d) { return x(d[0]); })
	.attr('cy', function(d) { return yRsi(d[1]); })
	.attr('r', 1.8)
	.attr('fill', '#00ee00');
rsiG.append('text').text('RSI').attr('x', 92).attr('y', 860).attr('fill', '#fff').style('font-size', '16px');

// ---------------- volume panel ----------------
var vol = svg.append('g');
vol.selectAll('rect.v')
	.data(days)
	.enter()
	.append('rect')
	.attr('x', function(d) { return x(d.date) - 0.8; })
	.attr('y', function(d) { return yVol(d.vol); })
	.attr('width', 1.6)
	.attr('height', function(d) { return yVol(0) - yVol(d.vol); })
	.attr('fill', function(d) { return d.up ? '#00dd00' : '#ee0000'; });
vol.append('path')
	.datum(dated(volatility))
	.attr('d', d3.line().x(function(d) { return x(d[0]); }).y(function(d) { return yVol(d[1]); }))
	.attr('fill', 'none')
	.attr('stroke', '#40e0d0')
	.attr('stroke-width', 2);
vol.append('text').text('Volume(millions)').attr('x', 92).attr('y', 1009).attr('fill', '#fff').style('font-size', '16px');
vol.append('text').text('(c)ntfri.com').attr('x', 1176).attr('y', 1009).attr('text-anchor', 'end')
	.attr('fill', '#f0a030').style('font-size', '16px');
vol.append('text').text('Volatility').attr('x', 1162).attr('y', 1082).attr('text-anchor', 'end')
	.attr('fill', '#20d0d0').style('font-size', '16px');
</script>
</body>
</html>
